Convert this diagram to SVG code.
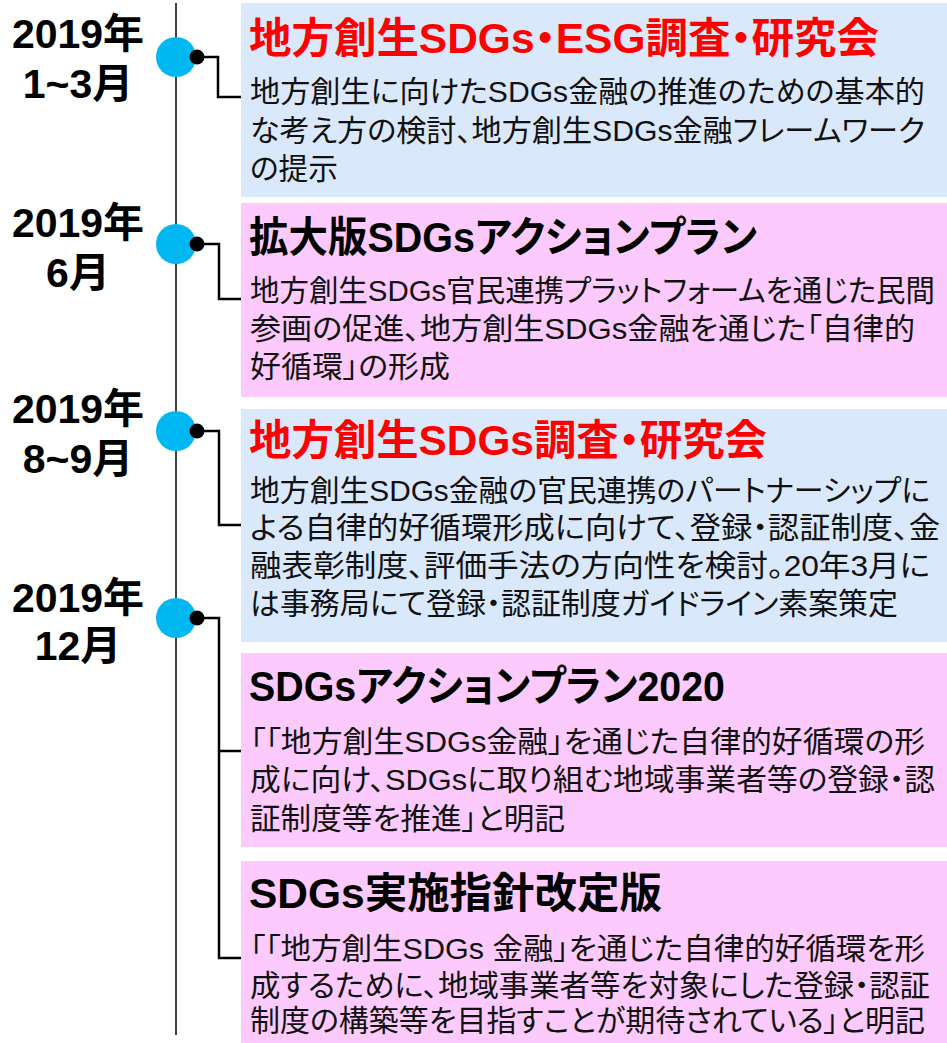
<svg xmlns="http://www.w3.org/2000/svg" width="947" height="1043" viewBox="0 0 947 1043">
<style>
.date{font-family:"Liberation Sans","Noto Sans CJK JP",sans-serif;font-weight:bold;font-size:41px;fill:#000;text-anchor:middle}
.ttl{font-family:"Liberation Sans","Noto Sans CJK JP",sans-serif;font-weight:bold;font-size:42px;font-feature-settings:"palt"}
.red{fill:#FF0000}
.blk{fill:#000}
.body{font-family:"Liberation Sans","Noto Sans CJK JP",sans-serif;font-size:30px;fill:#111;font-feature-settings:"palt"}
.blue{fill:#DAE8FC}
.pink{fill:#FCCAFC}
.conn{fill:none;stroke:#000;stroke-width:2.5}
.axis{stroke:#000;stroke-width:1.5}
.big{fill:#00B8F1}
.dot{fill:#000}
</style>
<g id="timeline-axis">
<line class="axis" x1="176" y1="3" x2="176" y2="1035"/>
</g>
<g id="connectors">
<path class="conn" d="M197,57 H218 V97 H241"/>
<path class="conn" d="M197,244 H219 V299 H241"/>
<path class="conn" d="M197,431 H219 V525 H241"/>
<path class="conn" d="M197,618 H219 V958 H241 M219,751 H241"/>
</g>
<g id="date1">
<circle class="big" cx="176" cy="57" r="20"/>
<circle class="dot" cx="197" cy="57" r="7.5"/>
<text class="date" x="78" y="48">2019年</text>
<text class="date" x="78" y="98">1~3月</text>
</g>
<g id="date2">
<circle class="big" cx="176" cy="244" r="20"/>
<circle class="dot" cx="197" cy="244" r="7.5"/>
<text class="date" x="78" y="237">2019年</text>
<text class="date" x="78" y="287">6月</text>
</g>
<g id="date3">
<circle class="big" cx="176" cy="431" r="20"/>
<circle class="dot" cx="197" cy="431" r="7.5"/>
<text class="date" x="78" y="423">2019年</text>
<text class="date" x="78" y="473">8~9月</text>
</g>
<g id="date4">
<circle class="big" cx="176" cy="618" r="20"/>
<circle class="dot" cx="197" cy="618" r="7.5"/>
<text class="date" x="78" y="612">2019年</text>
<text class="date" x="78" y="660">12月</text>
</g>
<g id="box1">
<rect class="blue" x="241" y="3" width="706" height="194"/>
<text class="ttl red" x="249" y="53" textLength="630" lengthAdjust="spacingAndGlyphs">地方創生SDGs・ESG調査・研究会</text>
<text class="body" x="250" y="102" textLength="675" lengthAdjust="spacingAndGlyphs">地方創生に向けたSDGs金融の推進のための基本的</text>
<text class="body" x="250" y="141" textLength="675" lengthAdjust="spacingAndGlyphs">な考え方の検討、地方創生SDGs金融フレームワーク</text>
<text class="body" x="250" y="179" textLength="88" lengthAdjust="spacingAndGlyphs">の提示</text>
</g>
<g id="box2">
<rect class="pink" x="241" y="203" width="706" height="194"/>
<text class="ttl blk" x="249" y="252" textLength="508" lengthAdjust="spacingAndGlyphs">拡大版SDGsアクションプラン</text>
<text class="body" x="250" y="301" textLength="685" lengthAdjust="spacingAndGlyphs">地方創生SDGs官民連携プラットフォームを通じた民間</text>
<text class="body" x="250" y="339" textLength="665" lengthAdjust="spacingAndGlyphs">参画の促進、地方創生SDGs金融を通じた「自律的</text>
<text class="body" x="250" y="377" textLength="200" lengthAdjust="spacingAndGlyphs">好循環」の形成</text>
</g>
<g id="box3">
<rect class="blue" x="241" y="409" width="706" height="233"/>
<text class="ttl red" x="249" y="455" textLength="518" lengthAdjust="spacingAndGlyphs">地方創生SDGs調査・研究会</text>
<text class="body" x="250" y="501" textLength="680" lengthAdjust="spacingAndGlyphs">地方創生SDGs金融の官民連携のパートナーシップに</text>
<text class="body" x="250" y="538" textLength="690" lengthAdjust="spacingAndGlyphs">よる自律的好循環形成に向けて、登録・認証制度、金</text>
<text class="body" x="250" y="576" textLength="680" lengthAdjust="spacingAndGlyphs">融表彰制度、評価手法の方向性を検討。20年3月に</text>
<text class="body" x="250" y="614" textLength="648" lengthAdjust="spacingAndGlyphs">は事務局にて登録・認証制度ガイドライン素案策定</text>
</g>
<g id="box4">
<rect class="pink" x="241" y="653" width="706" height="194"/>
<text class="ttl blk" x="249" y="701" textLength="476" lengthAdjust="spacingAndGlyphs">SDGsアクションプラン2020</text>
<text class="body" x="250" y="752" textLength="675" lengthAdjust="spacingAndGlyphs">「「地方創生SDGs金融」を通じた自律的好循環の形</text>
<text class="body" x="250" y="790" textLength="685" lengthAdjust="spacingAndGlyphs">成に向け、SDGsに取り組む地域事業者等の登録・認</text>
<text class="body" x="250" y="829" textLength="315" lengthAdjust="spacingAndGlyphs">証制度等を推進」と明記</text>
</g>
<g id="box5">
<rect class="pink" x="241" y="861" width="706" height="182"/>
<text class="ttl blk" x="249" y="908" textLength="413" lengthAdjust="spacingAndGlyphs">SDGs実施指針改定版</text>
<text class="body" x="250" y="959" textLength="675" lengthAdjust="spacingAndGlyphs">「「地方創生SDGs 金融」を通じた自律的好循環を形</text>
<text class="body" x="250" y="996" textLength="680" lengthAdjust="spacingAndGlyphs">成するために、地域事業者等を対象にした登録・認証</text>
<text class="body" x="250" y="1031" textLength="675" lengthAdjust="spacingAndGlyphs">制度の構築等を目指すことが期待されている」と明記</text>
</g>
</svg>
